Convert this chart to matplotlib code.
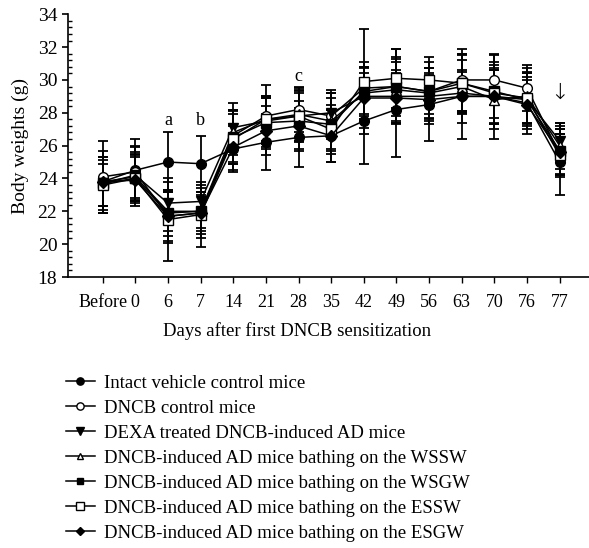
import numpy as np
import matplotlib.pyplot as plt
from matplotlib.ticker import MultipleLocator

days = ['Before', '0', '6', '7', '14', '21', '28', '35', '42', '49', '56', '63', '70', '76', '77']

names = ['Intact vehicle control mice',
         'DNCB control mice',
         'DEXA treated DNCB-induced AD mice',
         'DNCB-induced AD mice bathing on the WSSW',
         'DNCB-induced AD mice bathing on the WSGW',
         'DNCB-induced AD mice bathing on the ESSW',
         'DNCB-induced AD mice bathing on the ESGW']

intact = [23.8, 24.5, 25.0, 24.9, 25.8, 26.2, 26.5, 26.6, 27.5, 28.2, 28.5, 29.0, 29.0, 28.6, 25.0]
dncb = [24.1, 24.4, 21.7, 21.9, 26.6, 27.8, 28.2, 27.8, 29.5, 29.6, 29.3, 30.0, 30.0, 29.5, 25.5]
dexa = [23.7, 24.2, 22.5, 22.6, 27.1, 27.5, 27.8, 28.0, 29.0, 29.0, 29.0, 29.2, 29.0, 28.8, 26.3]
wssw = [23.8, 24.1, 22.0, 22.0, 26.8, 27.6, 27.9, 27.5, 29.2, 29.4, 29.2, 29.6, 28.8, 29.0, 26.0]
wsgw = [23.7, 24.0, 21.9, 22.0, 26.5, 27.4, 27.5, 27.3, 29.3, 29.6, 29.3, 29.8, 29.3, 28.8, 25.7]
essw = [23.6, 24.0, 21.5, 21.8, 26.4, 27.6, 27.8, 27.0, 29.9, 30.1, 30.0, 29.8, 29.2, 28.9, 25.4]
esgw = [23.8, 23.9, 21.7, 21.9, 25.9, 26.9, 27.2, 26.6, 28.9, 28.9, 28.8, 29.0, 29.0, 28.5, 25.6]

intact_sd = [1.5, 1.9, 1.8, 1.7, 1.4, 1.7, 1.8, 1.6, 2.6, 2.9, 2.2, 2.6, 2.6, 1.9, 2.0]
dncb_sd = [2.2, 1.6, 1.5, 1.3, 1.6, 1.9, 1.4, 1.4, 1.6, 2.3, 1.8, 1.9, 1.5, 1.4, 1.2]
dexa_sd = [1.6, 1.7, 1.3, 1.0, 1.5, 1.4, 1.5, 1.4, 1.4, 1.6, 1.4, 1.3, 1.6, 1.6, 1.1]
wssw_sd = [1.5, 1.5, 1.2, 1.0, 1.4, 1.3, 1.6, 1.7, 1.6, 1.9, 1.5, 1.6, 1.8, 1.7, 1.4]
wsgw_sd = [1.4, 1.4, 1.4, 1.2, 1.6, 1.6, 1.7, 1.6, 1.5, 1.8, 1.4, 1.8, 1.6, 1.4, 1.5]
essw_sd = [1.3, 1.3, 2.5, 2.0, 1.5, 1.4, 1.6, 1.5, 3.2, 1.8, 1.4, 1.7, 1.9, 1.5, 1.3]
esgw_sd = [1.9, 1.6, 1.6, 1.5, 1.4, 1.5, 1.5, 1.6, 1.8, 1.5, 1.5, 1.6, 1.7, 1.5, 1.4]

series = [intact, dncb, dexa, wssw, wsgw, essw, esgw]
errors = [intact_sd, dncb_sd, dexa_sd, wssw_sd, wsgw_sd, essw_sd, esgw_sd]
markers = ['o', 'o', 'v', '^', 's', 's', 'D']
fills = ['k', 'w', 'k', 'w', 'k', 'w', 'k']
sizes = [7, 7, 7, 6.5, 6.5, 7, 6]

plt.rcParams['font.family'] = ['Liberation Serif', 'DejaVu Serif']

fig = plt.figure(figsize=(5.89, 5.48), dpi=100)
ax = fig.add_axes([0.115, 0.4945, 0.885, 0.4795])

x = np.arange(len(days))
handles = []
for y, e, m, fc, ms, name in zip(series, errors, markers, fills, sizes, names):
    ax.errorbar(x, y, yerr=e, fmt='none', ecolor='k', elinewidth=1.3, capsize=3.5, capthick=1.3, zorder=2)
    h, = ax.plot(x, y, color='k', lw=1.1, marker=m, markersize=ms, markerfacecolor=fc,
                 markeredgecolor='k', markeredgewidth=1.0, label=name, zorder=3)
    handles.append(h)

ax.text(2, 27.0, 'a', ha='center', va='bottom', fontsize=13)
ax.text(3, 27.0, 'b', ha='center', va='bottom', fontsize=13)
ax.text(6, 29.7, 'c', ha='center', va='bottom', fontsize=13)
ax.text(14, 28.6, '\u2193', ha='center', va='bottom', fontsize=16,
        family=['DejaVu Sans'], fontweight='light')

ax.set_xlim(-1.07, 14.9)
ax.set_ylim(18, 34)
ax.set_xticks(x)
ax.set_xticklabels(days, fontsize=13)
ax.yaxis.set_major_locator(MultipleLocator(2))
ax.yaxis.set_minor_locator(MultipleLocator(0.4))
ax.tick_params(axis='y', which='major', direction='out', length=4, width=1.2, labelsize=14)
ax.tick_params(axis='y', which='minor', direction='in', length=3, width=1.0)
ax.tick_params(axis='x', direction='out', length=4, width=1.0, pad=8)
for s in ['top', 'right']:
    ax.spines[s].set_visible(False)
ax.spines['left'].set_linewidth(1.2)
ax.spines['bottom'].set_linewidth(1.2)

ax.set_ylabel('Body weights (g)', fontsize=14)
ax.yaxis.set_label_coords(-0.075, 0.5)
ax.set_xlabel('Days after first DNCB sensitization', fontsize=13.5)
ax.xaxis.set_label_coords(0.44, -0.17)

fig.legend(handles=handles, loc='upper left', bbox_to_anchor=(0.1, 0.33),
           frameon=False, fontsize=13.5, handlelength=1.5, handletextpad=0.5,
           labelspacing=0.42, markerscale=0.75, borderaxespad=0)

fig.savefig('out.png', dpi=100)
